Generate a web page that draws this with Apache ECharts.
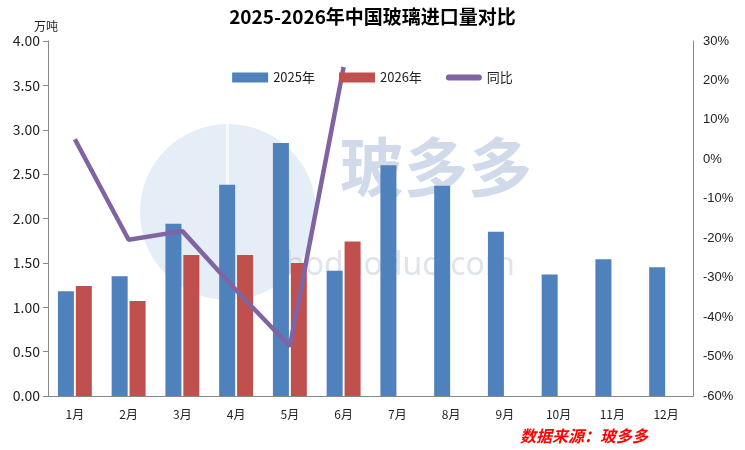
<!DOCTYPE html>
<html>
<head>
<meta charset="utf-8">
<script src="https://cdn.jsdelivr.net/npm/echarts@6/dist/echarts.min.js"></script>
<style>
  html, body { margin: 0; padding: 0; background: #fff; }
  #main { width: 745px; height: 450px; }
</style>
</head>
<body>
<div id="main"></div>
<script>
// 月份
const months = ['1月', '2月', '3月', '4月', '5月', '6月', '7月', '8月', '9月', '10月', '11月', '12月'];
// 进口量 万吨
const imports2025 = [1.18, 1.35, 1.94, 2.38, 2.85, 1.41, 2.60, 2.37, 1.85, 1.37, 1.54, 1.45];
const imports2026 = [1.24, 1.07, 1.59, 1.59, 1.50, 1.74, null, null, null, null, null, null];
// 同比 %
const yoy = [5.1, -20.4, -18.2, -33.2, -47.4, 23.4, null, null, null, null, null, null];

const cjk = "'Noto Sans CJK SC', 'Noto Sans', sans-serif";

const chart = echarts.init(document.getElementById('main'));
chart.setOption({
    backgroundColor: '#fff',
    animation: false,
    title: {
        text: '2025-2026年中国玻璃进口量对比',
        left: 'center',
        top: 2,
        textStyle: { fontFamily: cjk, fontSize: 19, fontWeight: 'bold', color: '#000' }
    },
    legend: {
        top: 66,
        left: 'center',
        itemWidth: 36,
        itemHeight: 10,
        itemGap: 24,
        textStyle: { fontFamily: cjk, fontSize: 13, color: '#222' },
        data: [
            { name: '2025年', icon: 'rect' },
            { name: '2026年', icon: 'rect' },
            { name: '同比', icon: 'path://M3,0 L33,0 A3,3 0 0 1 33,6 L3,6 A3,3 0 0 1 3,0 Z' }
        ]
    },
    graphic: [
        {
            type: 'circle', silent: true, z: 0,
            shape: { cx: 228, cy: 212, r: 88 },
            style: { fill: 'rgba(150,185,225,0.25)' }
        },
        {
            type: 'rect', silent: true, z: 0,
            shape: { x: 226, y: 124, width: 3, height: 176 },
            style: { fill: 'rgba(255,255,255,0.6)' }
        },
        {
            type: 'text', silent: true, z: 0, left: 340, top: 135,
            style: { text: '玻多多', font: "bold 64px " + cjk, fill: 'rgba(120,150,195,0.35)' }
        },
        {
            type: 'text', silent: true, z: 0, left: 285, top: 250,
            style: { text: 'boduoduo.com', font: "32px 'Noto Sans', sans-serif", fill: 'rgba(150,165,190,0.3)' }
        },
        {
            type: 'text', left: 34, top: 20,
            style: { text: '万吨', font: "12px " + cjk, fill: '#222' }
        },
        {
            type: 'text', left: 520, top: 428,
            style: { text: '数据来源：玻多多', font: "italic bold 16px " + cjk, fill: '#ff0000' }
        }
    ],
    grid: { left: 48, right: 52, top: 41, bottom: 54 },
    xAxis: {
        type: 'category',
        data: months,
        axisLine: { lineStyle: { color: '#888', width: 1 } },
        axisTick: { inside: true, length: 6, lineStyle: { color: '#888' } },
        axisLabel: { fontFamily: cjk, fontSize: 12, color: '#222', margin: 12 }
    },
    yAxis: [
        {
            type: 'value',
            min: 0, max: 4, interval: 0.5,
            axisLine: { show: true, lineStyle: { color: '#888' } },
            axisTick: { show: true, length: 5, lineStyle: { color: '#888' } },
            splitLine: { show: false },
            axisLabel: {
                fontFamily: cjk, fontSize: 14, color: '#222', margin: 8,
                formatter: v => v.toFixed(2)
            }
        },
        {
            type: 'value',
            min: -60, max: 30, interval: 10,
            position: 'right',
            axisLine: { show: true, lineStyle: { color: '#888' } },
            axisTick: { show: false },
            splitLine: { show: false },
            axisLabel: {
                fontFamily: "'Liberation Sans', sans-serif", fontSize: 13, color: '#222', margin: 10,
                formatter: v => v + '%'
            }
        }
    ],
    series: [
        {
            name: '2025年', type: 'bar', data: imports2025,
            barWidth: 16, barGap: '12%',
            itemStyle: { color: '#4F81BD' }, z: 2
        },
        {
            name: '2026年', type: 'bar', data: imports2026,
            barWidth: 16,
            itemStyle: { color: '#C0504D' }, z: 2
        },
        {
            name: '同比', type: 'line', yAxisIndex: 1, data: yoy,
            showSymbol: false, symbol: 'none',
            lineStyle: { color: '#8064A2', width: 4.5 },
            itemStyle: { color: '#8064A2' }, z: 3
        }
    ]
});
</script>
</body>
</html>
